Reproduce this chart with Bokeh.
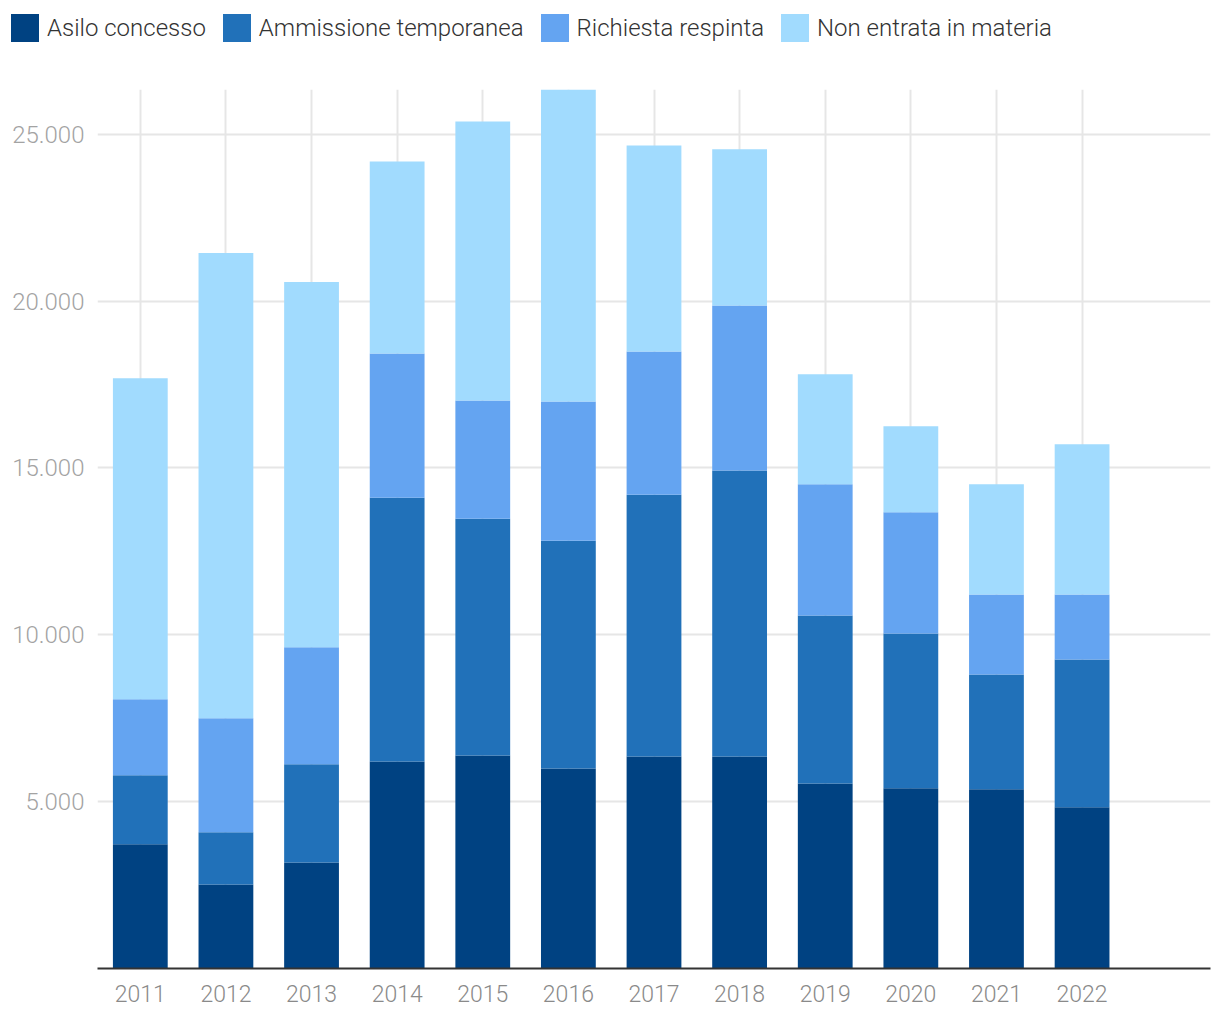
from bokeh.plotting import figure
from bokeh.models import ColumnDataSource, Range1d, FixedTicker, Legend, LegendItem
from bokeh.layouts import column
from bokeh.embed import file_html
from bokeh.resources import INLINE

# ---- data ----
years = ["2011", "2012", "2013", "2014", "2015", "2016",
         "2017", "2018", "2019", "2020", "2021", "2022"]
asilo_concesso = [3720, 2520, 3180, 6200, 6380, 5990, 6350, 6350, 5540, 5400, 5370, 4830]
ammissione_temporanea = [2070, 1560, 2940, 7910, 7100, 6830, 7850, 8570, 5040, 4640, 3440, 4430]
richiesta_respinta = [2280, 3420, 3510, 4320, 3540, 4170, 4290, 4950, 3930, 3630, 2400, 1950]
non_entrata_in_materia = [9620, 13940, 10940, 5750, 8360, 9350, 6170, 4680, 3300, 2580, 3300, 4500]

series_names = ["Asilo concesso", "Ammissione temporanea",
                "Richiesta respinta", "Non entrata in materia"]
series_keys = ["asilo", "ammissione", "respinta", "non_entrata"]
colors = ["#004282", "#2171b9", "#64a4f1", "#a1dbfe"]
y_ticks = [5000, 10000, 15000, 20000, 25000]

FONT = "Roboto Light"

# ---- build source ----
x_pos = list(range(len(years)))
source = ColumnDataSource(dict(
    x=x_pos,
    asilo=asilo_concesso,
    ammissione=ammissione_temporanea,
    respinta=richiesta_respinta,
    non_entrata=non_entrata_in_materia,
))
totals = [a + b + c + d for a, b, c, d in zip(asilo_concesso, ammissione_temporanea,
                                              richiesta_respinta, non_entrata_in_materia)]

# ---- legend strip: its own figure, frame covering the whole strip ----
LEG_H = 89
pl = figure(width=1220, height=LEG_H, output_backend="svg", toolbar_location=None,
            x_range=Range1d(0, 1), y_range=Range1d(0, 1),
            x_axis_type=None, y_axis_type=None,
            min_border=0, min_border_left=0, min_border_right=0,
            min_border_top=0, min_border_bottom=0)
pl.frame_align = False
pl.outline_line_color = None
pl.xgrid.visible = False
pl.ygrid.visible = False
# zero-height swatch renderers, used only to draw the legend keys
swatch_src = ColumnDataSource(dict(x=[0.5], top=[0.0]))
leg_renderers = [pl.vbar(x="x", top="top", bottom=0.0, width=0.1, fill_color=c,
                         line_color=None, source=swatch_src) for c in colors]
items = [LegendItem(label=n, renderers=[r]) for n, r in zip(series_names, leg_renderers)]
legend = Legend(items=items, orientation="horizontal", location=(7, LEG_H - 45),
                glyph_width=35, glyph_height=35, label_standoff=5, spacing=13,
                padding=0, margin=0, border_line_alpha=0, background_fill_alpha=0,
                label_text_font=FONT, label_text_font_size="24px",
                label_text_color="#333333")
pl.add_layout(legend, "center")

# ---- main chart ----
p = figure(width=1220, height=1020 - LEG_H, output_backend="svg", toolbar_location=None,
           x_range=Range1d(-0.5, len(years) + 0.5), y_range=Range1d(0, max(totals)),
           min_border_left=97, min_border_right=10, min_border_top=0, min_border_bottom=52)
p.frame_align = False
p.outline_line_color = None
p.background_fill_color = "white"
p.border_fill_color = "white"

renderers = p.vbar_stack(series_keys, x="x", width=0.64, color=colors,
                         line_color=None, source=source)

xa = p.xaxis[0]
xa.ticker = FixedTicker(ticks=x_pos)
xa.major_label_overrides = {i: y for i, y in enumerate(years)}
xa.axis_line_color = "#333333"
xa.axis_line_width = 2
xa.major_tick_line_color = None
xa.minor_tick_line_color = None
xa.major_label_standoff = 10
xa.major_label_text_font = FONT
xa.major_label_text_font_size = "23px"
xa.major_label_text_color = "#8a8a8a"

ya = p.yaxis[0]
ya.ticker = FixedTicker(ticks=y_ticks)
ya.major_label_overrides = {v: f"{v:,}".replace(",", ".") for v in y_ticks}
ya.axis_line_color = None
ya.major_tick_line_color = None
ya.minor_tick_line_color = None
ya.major_label_standoff = 7
ya.major_label_text_font = FONT
ya.major_label_text_font_size = "24px"
ya.major_label_text_color = "#a3a3a3"

p.xgrid.ticker = FixedTicker(ticks=x_pos)
p.ygrid.ticker = FixedTicker(ticks=y_ticks)
p.xgrid.grid_line_color = "#e6e6e6"
p.ygrid.grid_line_color = "#e6e6e6"
p.xgrid.grid_line_width = 2
p.ygrid.grid_line_width = 2

layout = column(pl, p, spacing=0)
open("out.html", "w").write(file_html(layout, INLINE))
